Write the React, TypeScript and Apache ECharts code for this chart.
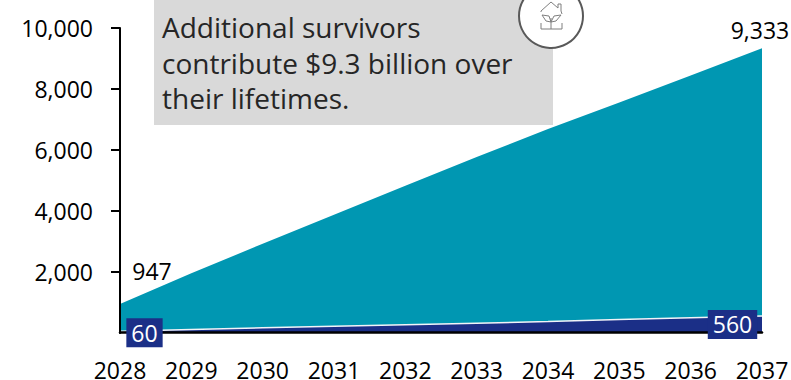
import React, { useEffect, useRef } from "react";
import * as echarts from "echarts";

const years = ["2028", "2029", "2030", "2031", "2032", "2033", "2034", "2035", "2036", "2037"];
const totalValues = [947, 1957, 2925, 3875, 4826, 5770, 6689, 7557, 8439, 9333];
const survivorValues = [60, 118, 170, 223, 269, 321, 377, 443, 502, 560];
const yTickValues = [2000, 4000, 6000, 8000, 10000];
const calloutLines = ["Additional survivors", "contribute $9.3 billion over", "their lifetimes."];

const TEAL = "#0097b2";
const NAVY = "#1b2f87";
const UI_FONT = "Open Sans";

const fmt = (v: number) => v.toLocaleString("en-US");

export default function App() {
  const ref = useRef<HTMLDivElement>(null);

  useEffect(() => {
    const chart = echarts.init(ref.current!, null, { renderer: "svg" });
    const iconStroke = { stroke: "#7f7f7f", lineWidth: 1, fill: "none" };
    const last = years.length - 1;
    chart.setOption({
      animation: false,
      grid: { left: 120, right: 29, top: 28, bottom: 47, outerBoundsMode: "none" },
      xAxis: {
        type: "category",
        data: years,
        boundaryGap: false,
        offset: -1,
        z: 5,
        axisLine: { lineStyle: { color: "#000", width: 2.5 } },
        axisTick: { show: false },
        axisLabel: { color: "#000", fontFamily: UI_FONT, fontSize: 23, lineHeight: 20, margin: 28, interval: 0, showMaxLabel: true },
      },
      yAxis: {
        type: "value",
        min: 0,
        max: 10000,
        interval: 2000,
        z: 5,
        splitLine: { show: false },
        axisLine: { show: true, lineStyle: { color: "#000", width: 2 } },
        axisTick: { show: true, length: 9, customValues: yTickValues, lineStyle: { color: "#000", width: 2 } },
        axisLabel: {
          color: "#000",
          fontFamily: UI_FONT,
          fontSize: 23,
          margin: 27,
          padding: [0, 0, 2, 0],
          customValues: yTickValues,
          formatter: (v: number) => fmt(v),
        },
      },
      series: [
        {
          type: "line",
          data: totalValues.map((value, i) => {
            if (i === 0) return { value, label: { show: true, offset: [32, -33] } };
            if (i === last) return { value, label: { show: true, offset: [-2, -18] } };
            return value;
          }),
          symbol: "circle",
          symbolSize: 0,
          lineStyle: { width: 0 },
          areaStyle: { color: TEAL, opacity: 1 },
          label: {
            show: false,
            position: "inside",
            color: "#000",
            fontFamily: UI_FONT,
            fontSize: 23,
            formatter: (p: any) => fmt(p.value),
          },
          z: 2,
        },
        {
          type: "line",
          data: survivorValues,
          symbol: "none",
          lineStyle: { width: 1.5, color: "#f2f4f8" },
          areaStyle: { color: NAVY, opacity: 1 },
          z: 3,
        },
        // Boxed value labels sit in their own layer, above the axis lines
        {
          type: "line",
          data: survivorValues.map((value, i) => {
            if (i === 0) return { value, label: { show: true, offset: [24.5, 1.5] } };
            if (i === last) return { value, label: { show: true, offset: [-29.5, 8.5] } };
            return value;
          }),
          symbol: "circle",
          symbolSize: 0,
          lineStyle: { width: 0, opacity: 0 },
          label: {
            show: false,
            position: "inside",
            color: "#fff",
            fontFamily: UI_FONT,
            fontSize: 23,
            lineHeight: 29,
            backgroundColor: NAVY,
            padding: [0, 5, 0, 5],
          },
          z: 8,
        },
      ],
      graphic: [
        { type: "rect", shape: { x: 154, y: 0, width: 399, height: 125 }, style: { fill: "#d9d9d9" }, z: 10 },
        ...calloutLines.map((line, i) => ({
          type: "text",
          x: 162,
          y: 27 + i * 35.5,
          style: { text: line, fill: "#262626", font: `400 28px "${UI_FONT}"`, verticalAlign: "middle" },
          z: 11,
        })),
        { type: "circle", shape: { cx: 551, cy: 16, r: 32 }, style: { fill: "#fff", stroke: "#595959", lineWidth: 2 }, z: 12 },
        // House outline with a sprouting plant inside
        { type: "polyline", shape: { points: [[541, 12], [541, 11], [551, 2], [558, 8], [558, 4], [561, 4], [561, 11], [562, 14]] }, style: iconStroke, z: 13 },
        { type: "polyline", shape: { points: [[541, 23], [541, 29], [562, 29], [562, 23]] }, style: iconStroke, z: 13 },
        { type: "line", shape: { x1: 551, y1: 29, x2: 551, y2: 18 }, style: iconStroke, z: 13 },
        { type: "polygon", shape: { points: [[542, 15], [549, 16], [551, 22], [546, 21]] }, style: iconStroke, z: 13 },
        { type: "polygon", shape: { points: [[561, 15], [554, 16], [551, 22], [556, 21]] }, style: iconStroke, z: 13 },
      ],
    });
    return () => chart.dispose();
  }, []);

  return <div ref={ref} style={{ position: "absolute", left: 0, top: 0, width: 791, height: 380 }} />;
}
